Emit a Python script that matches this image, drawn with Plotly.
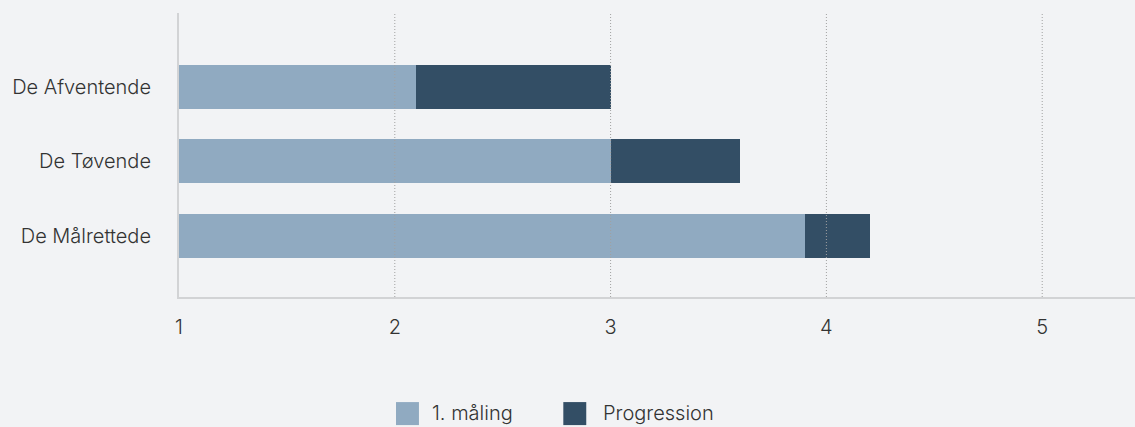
import plotly.graph_objects as go

categories = ["De Målrettede", "De Tøvende", "De Afventende"]
first_measure = [3.9, 3.0, 2.1]
final_value = [4.2, 3.6, 3.0]
progression = [round(f - s, 2) for f, s in zip(final_value, first_measure)]
series_names = ["1. måling", "Progression"]
tick_vals = [1, 2, 3, 4, 5]
tick_text = ["1", "2", "3", "4", "5"]

light = "#90aac1"
dark = "#334e65"
bg = "#f2f3f5"
font_family = "Inter"
text_color = "#333333"
fsize = 20

fig = go.Figure()
fig.add_trace(go.Bar(y=categories, x=first_measure, orientation="h",
                     marker=dict(color=light, line=dict(width=0)),
                     name=series_names[0], showlegend=False))
fig.add_trace(go.Bar(y=categories, x=progression, orientation="h",
                     marker=dict(color=dark, line=dict(width=0)),
                     name=series_names[1], showlegend=False))

shapes = []
for tv in tick_vals[1:]:
    shapes.append(dict(type="line", xref="x", yref="paper", x0=tv, x1=tv, y0=0, y1=1,
                       line=dict(color="#a0a0a0", width=1, dash="1px,2px"), layer="above"))

# manual legend
legend_items = [(0.227, 0.251, light, series_names[0], 0.263),
                (0.402, 0.426, dark, series_names[1], 0.441)]
annotations = []
for x0, x1, col, name, tx in legend_items:
    shapes.append(dict(type="rect", xref="paper", yref="paper", x0=x0, x1=x1,
                       y0=-0.451, y1=-0.370, fillcolor=col, line=dict(width=0)))
    annotations.append(dict(xref="paper", yref="paper", x=tx, y=-0.410, text=name,
                            showarrow=False, xanchor="left", yanchor="middle",
                            font=dict(family=font_family, size=fsize, color=text_color, weight=300)))

fig.update_layout(
    width=1135, height=427,
    barmode="stack", bargap=0.41,
    paper_bgcolor=bg, plot_bgcolor=bg,
    margin=dict(l=179, r=0, t=13, b=130),
    font=dict(family=font_family, size=fsize, color=text_color, weight=300),
    shapes=shapes, annotations=annotations,
    xaxis=dict(range=[1, 5.43], tickvals=tick_vals, ticktext=tick_text,
               showgrid=False, zeroline=False, showline=True,
               linecolor="#d2d3d5", linewidth=2, ticks="",
               ticklabelstandoff=11,
               tickfont=dict(family=font_family, size=fsize, color=text_color, weight=300)),
    yaxis=dict(range=[-0.82, 2.99], showgrid=False, zeroline=False, showline=True,
               linecolor="#d2d3d5", linewidth=2, ticks="",
               ticklabelstandoff=22,
               tickfont=dict(family=font_family, size=fsize, color=text_color, weight=300)),
)

fig.write_html("out.html", config={"displayModeBar": False},
               post_script="document.body.style.margin='0';document.body.style.background='%s';" % bg)
